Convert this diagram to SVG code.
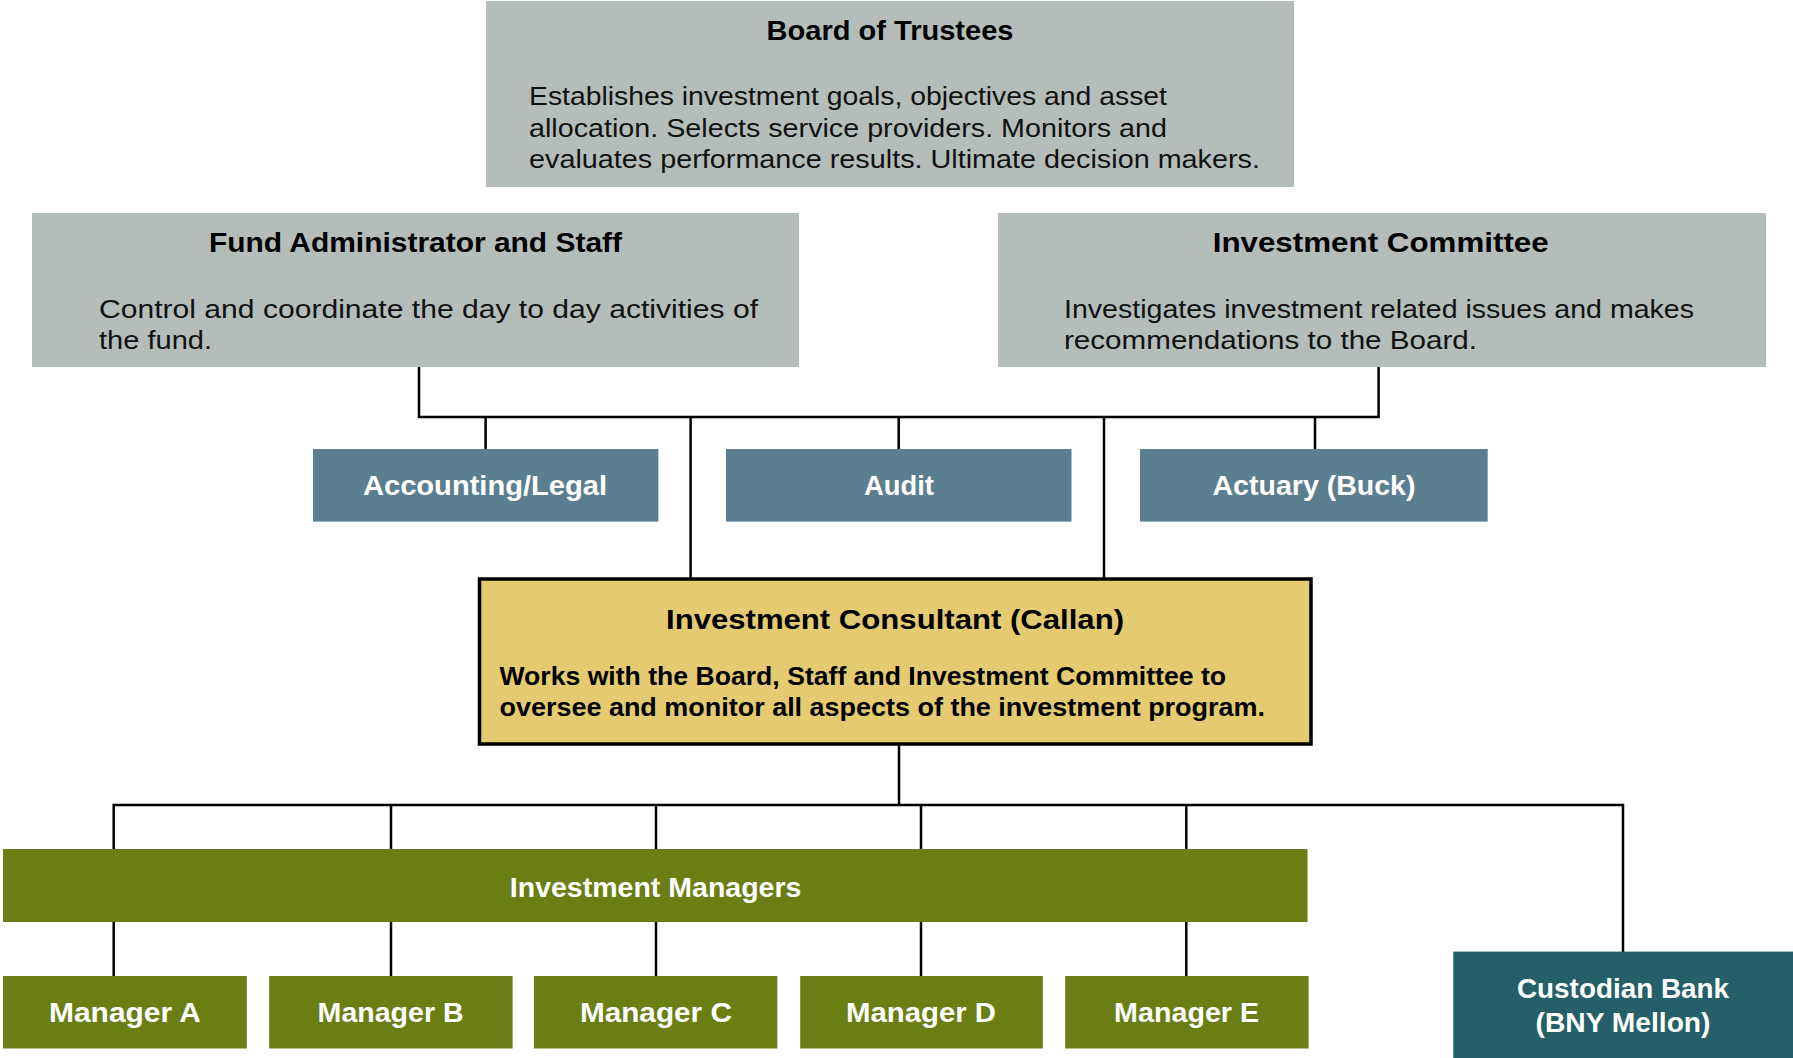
<svg xmlns="http://www.w3.org/2000/svg" width="1793" height="1058" viewBox="0 0 1793 1058">
<style>
  .gray { fill: #B5BDBB; }
  .blue { fill: #5C7E91; }
  .olive { fill: #6B7E14; }
  .teal { fill: #255F69; }
  .gold { fill: #E4CA71; stroke: #000; stroke-width: 3.5; }
  text { font-family: "Liberation Sans", Arial, sans-serif; }
  .title { font-weight: bold; font-size: 28px; fill: #000; text-anchor: middle; }
  .body { font-size: 25px; fill: #111; }
  .bbody { font-size: 25px; font-weight: bold; fill: #000; }
  .wlabel { font-weight: bold; font-size: 27px; fill: #fff; text-anchor: middle; }
  .conn { stroke: #000; stroke-width: 2.5; fill: none; }
</style>
<rect width="1793" height="1058" fill="#fff"/>

<g id="connectors">
  <path class="conn" d="M419,367 V417 H1378.6 V367"/>
  <path class="conn" d="M485.6,417 V449 M898.7,417 V449 M1315,417 V449"/>
  <path class="conn" d="M690.6,417 V579 M1104,417 V579"/>
  <path class="conn" d="M899,744 V805"/>
  <path class="conn" d="M113.7,849 V805 H1623 V952"/>
  <path class="conn" d="M391,805 V849 M656,805 V849 M921,805 V849 M1186.3,805 V849"/>
  <path class="conn" d="M113.7,922 V976 M391,922 V976 M656,922 V976 M921,922 V976 M1186.3,922 V976"/>
</g>

<g id="board">
  <rect class="gray" x="486" y="1" width="808" height="186"/>
  <text class="title" x="890" y="40" textLength="247" lengthAdjust="spacingAndGlyphs">Board of Trustees</text>
  <text class="body" x="529" y="105" textLength="638" lengthAdjust="spacingAndGlyphs">Establishes investment goals, objectives and asset</text>
  <text class="body" x="529" y="137" textLength="638" lengthAdjust="spacingAndGlyphs">allocation. Selects service providers. Monitors and</text>
  <text class="body" x="529" y="168" textLength="731" lengthAdjust="spacingAndGlyphs">evaluates performance results. Ultimate decision makers.</text>
</g>

<g id="fund-admin">
  <rect class="gray" x="32" y="213" width="767" height="154"/>
  <text class="title" x="415.5" y="252" textLength="413" lengthAdjust="spacingAndGlyphs">Fund Administrator and Staff</text>
  <text class="body" x="99" y="318" textLength="659" lengthAdjust="spacingAndGlyphs">Control and coordinate the day to day activities of</text>
  <text class="body" x="99" y="349" textLength="113" lengthAdjust="spacingAndGlyphs">the fund.</text>
</g>

<g id="investment-committee">
  <rect class="gray" x="998" y="213" width="768" height="154"/>
  <text class="title" x="1380.7" y="252" textLength="336" lengthAdjust="spacingAndGlyphs">Investment Committee</text>
  <text class="body" x="1064" y="318" textLength="630" lengthAdjust="spacingAndGlyphs">Investigates investment related issues and makes</text>
  <text class="body" x="1064" y="349" textLength="413" lengthAdjust="spacingAndGlyphs">recommendations to the Board.</text>
</g>

<g id="accounting-legal">
  <rect class="blue" x="313" y="449" width="345.4" height="72.6"/>
  <text class="wlabel" x="485" y="495" textLength="244" lengthAdjust="spacingAndGlyphs">Accounting/Legal</text>
</g>

<g id="audit">
  <rect class="blue" x="726" y="449" width="345.5" height="72.6"/>
  <text class="wlabel" x="899" y="495" textLength="70" lengthAdjust="spacingAndGlyphs">Audit</text>
</g>

<g id="actuary">
  <rect class="blue" x="1140" y="449" width="347.7" height="72.6"/>
  <text class="wlabel" x="1314" y="495" textLength="203" lengthAdjust="spacingAndGlyphs">Actuary (Buck)</text>
</g>

<g id="investment-consultant">
  <rect class="gold" x="479.5" y="579" width="831.5" height="165"/>
  <text class="title" x="895" y="629" textLength="458" lengthAdjust="spacingAndGlyphs">Investment Consultant (Callan)</text>
  <text class="bbody" x="499.5" y="684.5" textLength="726.5" lengthAdjust="spacingAndGlyphs">Works with the Board, Staff and Investment Committee to</text>
  <text class="bbody" x="499.5" y="715.5" textLength="765.5" lengthAdjust="spacingAndGlyphs">oversee and monitor all aspects of the investment program.</text>
</g>

<g id="investment-managers">
  <rect class="olive" x="3" y="849" width="1304.5" height="73"/>
  <text class="wlabel" x="655.6" y="896.5" textLength="291.6" lengthAdjust="spacingAndGlyphs">Investment Managers</text>
</g>

<g id="manager-a">
  <rect class="olive" x="3" y="976" width="243.8" height="72.5"/>
  <text class="wlabel" x="125" y="1022" textLength="152" lengthAdjust="spacingAndGlyphs">Manager A</text>
</g>
<g id="manager-b">
  <rect class="olive" x="269.2" y="976" width="243.4" height="72.5"/>
  <text class="wlabel" x="390.6" y="1022" textLength="146" lengthAdjust="spacingAndGlyphs">Manager B</text>
</g>
<g id="manager-c">
  <rect class="olive" x="533.9" y="976" width="243.4" height="72.5"/>
  <text class="wlabel" x="655.9" y="1022" textLength="152" lengthAdjust="spacingAndGlyphs">Manager C</text>
</g>
<g id="manager-d">
  <rect class="olive" x="800.2" y="976" width="242.6" height="72.5"/>
  <text class="wlabel" x="921" y="1022" textLength="150" lengthAdjust="spacingAndGlyphs">Manager D</text>
</g>
<g id="manager-e">
  <rect class="olive" x="1065.2" y="976" width="243.4" height="72.5"/>
  <text class="wlabel" x="1186.6" y="1022" textLength="145" lengthAdjust="spacingAndGlyphs">Manager E</text>
</g>

<g id="custodian-bank">
  <rect class="teal" x="1453.3" y="951.6" width="339.7" height="106.4"/>
  <text class="wlabel" x="1623" y="998" textLength="212" lengthAdjust="spacingAndGlyphs">Custodian Bank</text>
  <text class="wlabel" x="1623" y="1031.7" textLength="175" lengthAdjust="spacingAndGlyphs">(BNY Mellon)</text>
</g>
</svg>
